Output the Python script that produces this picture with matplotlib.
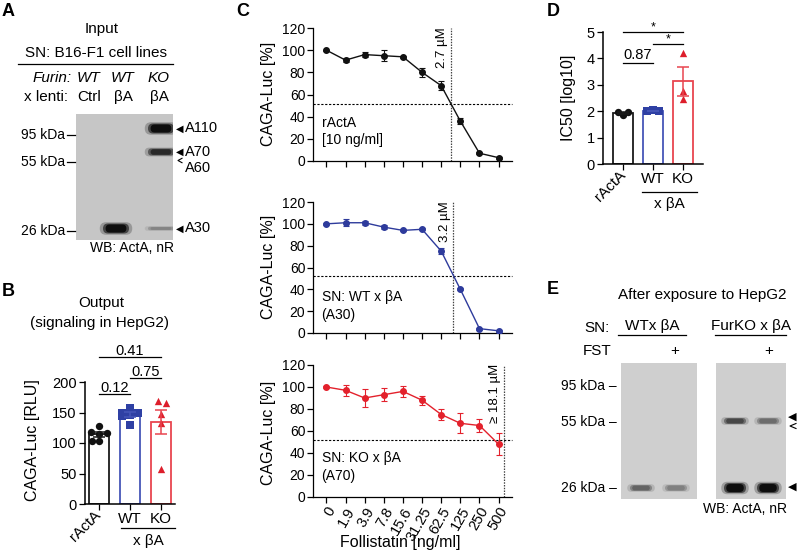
import numpy as np
import matplotlib
matplotlib.use('Agg')
import matplotlib.pyplot as plt
from matplotlib.lines import Line2D
from matplotlib.patches import FancyBboxPatch

plt.rcParams['font.family'] = ['Liberation Sans', 'DejaVu Sans']
plt.rcParams['axes.linewidth'] = 0.9
plt.rcParams['xtick.major.width'] = 0.9
plt.rcParams['ytick.major.width'] = 0.9
plt.rcParams['xtick.major.size'] = 4
plt.rcParams['ytick.major.size'] = 4

# ---- data ----
# panel A blot
a_genotype = ['WT', 'WT', 'KO']
a_lenti = ['Ctrl', 'βA', 'βA']
a_markers = ['95 kDa', '55 kDa', '26 kDa']
# (lane index, band, intensity 0..1)
a_bands = [(2, 'A110', 1.0), (2, 'A70', 0.85), (1, 'A30', 1.0), (2, 'A30', 0.35)]

# panel B: CAGA-Luc RLU per replicate
b_groups = ['rActA', 'WT', 'KO']
b_ract = [128, 118, 117, 114, 104, 103]
b_wt = [158, 150, 149, 146, 145, 130]
b_ko = [169, 165, 147, 132, 58]
b_pvals = ['0.12', '0.75', '0.41']

# panel C: dose response, CAGA-Luc [%]
conc_labels = ['0', '1.9', '3.9', '7.8', '15.6', '31.25', '62.5', '125', '250', '500']
c_ract_mean = [100, 91, 96, 95, 94, 80, 68, 36, 7, 3]
c_ract_err = [0.5, 2, 2, 5, 1, 4, 4, 3, 1, 1]
c_wt_mean = [100, 101, 101, 97, 94, 95, 75, 40, 4, 2]
c_wt_err = [1, 3, 2, 2, 1, 1, 3, 1, 1, 1]
c_ko_mean = [100, 97, 90, 93, 96, 88, 75, 67, 65, 48]
c_ko_err = [1, 5, 8, 6, 5, 4, 5, 9, 6, 10]
c_half = [51.5, 52.5, 51.5]
c_ic50_x = [6.5, 6.62, 9.27]
c_ic50_lbl = ['2.7 µM', '3.2 µM', '≥ 18.1 µM']
c_names = ['rActA\n[10 ng/ml]', 'SN: WT x βA\n(A30)', 'SN: KO x βA\n(A70)']

# panel D: IC50 [log10]
d_ract = [1.98, 1.85, 1.98]
d_wt = [2.0, 2.03, 2.01]
d_ko = [4.2, 2.75, 2.45]
d_pvals = ['0.87', '*', '*']

# panel E blot
e_markers = ['95 kDa', '55 kDa', '26 kDa']
# (blot, lane, band, intensity)
e_bands = [(0, 0, '26', 0.55), (0, 1, '26', 0.4),
           (1, 0, '55', 0.7), (1, 1, '55', 0.5),
           (1, 0, '26', 1.0), (1, 1, '26', 1.0)]

# ---- styles ----
blk = '#111111'
blue = '#2e3b9c'
red = '#e3212c'
bar_edges = ['#1a1a1a', '#4656b8', '#e8454f']
pt_cols = [blk, '#2f40a4', '#dd1e2b']
pt_marks = ['o', 's', '^']

W, H = 799, 554
fig = plt.figure(figsize=(W / 100, H / 100), dpi=100)


def add_ax(x0, y0, x1, y1):
    return fig.add_axes([x0 / W, 1 - y1 / H, (x1 - x0) / W, (y1 - y0) / H])


def ftext(x, y, s, **kw):
    kw.setdefault('ha', 'center')
    kw.setdefault('va', 'center')
    kw.setdefault('fontsize', 10.5)
    fig.text(x / W, 1 - y / H, s, **kw)


def fline(x0, x1, y, lw=0.9, color='black'):
    fig.add_artist(Line2D([x0 / W, x1 / W], [1 - y / H, 1 - y / H], lw=lw, color=color))


def open_arrow(x, y, w=5, h=3):
    # small open "<" arrowhead drawn as lines
    fig.add_artist(Line2D([(x + w) / W, x / W, (x + w) / W],
                          [1 - (y - h) / H, 1 - y / H, 1 - (y + h) / H],
                          lw=0.8, color='black'))


def blot_ax(box, bg):
    x0, y0, x1, y1 = box
    ax = add_ax(*box)
    ax.set_xlim(x0, x1)
    ax.set_ylim(y1, y0)
    ax.set_facecolor(bg)
    ax.set_xticks([])
    ax.set_yticks([])
    for s in ax.spines.values():
        s.set_visible(False)
    return ax


def band(ax, cx, cy, w, h, inten, bg=0.8):
    g = bg * (1 - 0.93 * inten)
    col = (g, g, g)
    for f, a in [(1.25, 0.25), (1.0, 0.6), (0.8, 1.0)]:
        ww, hh = w * f, h * f
        ax.add_patch(FancyBboxPatch((cx - ww / 2, cy - hh / 2), ww, hh,
                                    boxstyle='round,pad=0,rounding_size=%f' % (hh / 2),
                                    fc=col, ec='none', alpha=a))


def letter(x, y, s):
    ftext(x, y, s, fontsize=13, fontweight='bold')


# ================= Panel A =================
letter(8, 12, 'A')
ftext(102, 29, 'Input', fontsize=11)
ftext(96, 53, 'SN: B16-F1 cell lines', fontsize=11)
fline(18, 173, 64)
ftext(72, 78, 'Furin:', ha='right', style='italic', fontsize=11)
ftext(68, 97, 'x lenti:', ha='right', fontsize=11)
for xh, g, l in zip([89, 123, 159], a_genotype, a_lenti):
    ftext(xh, 78, g, style='italic', fontsize=11)
    ftext(xh, 97, l, fontsize=11)

a_box = (76, 114, 173, 240)
axA = blot_ax(a_box, '#c6c6c6')
a_lane_x = [91, 116, 161]
a_band_y = {'A110': 128.5, 'A70': 152, 'A60': 162, 'A30': 228.5}
a_band_h = {'A110': 10, 'A70': 7, 'A60': 6, 'A30': 10}
for lane, nm, inten in a_bands:
    h = a_band_h[nm] * (0.35 if inten < 0.5 else 1)
    band(axA, a_lane_x[lane], a_band_y[nm], 26, h, inten, bg=0.77)
for nm, y in zip(a_markers, [135, 162, 231]):
    ftext(65, y, nm, ha='right', fontsize=10)
    fline(67, 75, y)
for nm in ['A110', 'A70', 'A30']:
    ftext(176, a_band_y[nm], '◀', ha='left', fontsize=7, family='DejaVu Sans')
    ftext(185, a_band_y[nm], nm, ha='left', fontsize=10.5)
open_arrow(178, 160.5, 4, 2.2)
ftext(185, 168, 'A60', ha='left', fontsize=10.5)
ftext(132, 248, 'WB: ActA, nR', fontsize=10)


# ================= Panels B and D (bar + scatter) =================
def bar_panel(box, groups, pts_list, jit_list, ylim, yticks, tfs):
    ax = add_ax(*box)
    for i, (pts, jit) in enumerate(zip(pts_list, jit_list)):
        pts = np.array(pts, dtype=float)
        m = pts.mean()
        sem = pts.std(ddof=1) / np.sqrt(len(pts))
        ax.bar(i, m, width=0.64, facecolor='white', edgecolor=bar_edges[i], lw=1.3, zorder=1)
        ax.scatter(i + np.array(jit), pts, marker=pt_marks[i], s=28, color=pt_cols[i],
                   zorder=3, lw=0)
        ax.errorbar(i, m, yerr=sem, color=bar_edges[i], capsize=4, elinewidth=1.1,
                    capthick=1.1, zorder=4)
    ax.set_xlim(-0.62, 2.5)
    ax.set_ylim(*ylim)
    ax.set_yticks(yticks)
    ax.tick_params(labelsize=tfs, pad=2)
    ax.set_xticks([0, 1, 2])
    ax.set_xticklabels(groups, fontsize=tfs + 0.5)
    lb = ax.get_xticklabels()[0]
    lb.set_rotation(45)
    lb.set_ha('right')
    lb.set_va('center')
    lb.set_rotation_mode('anchor')
    for s in ['top', 'right']:
        ax.spines[s].set_visible(False)
    for s in ['left', 'bottom']:
        ax.spines[s].set_linewidth(1.1)
    return ax


def bracket(ax, x0, x1, y, txt, dy, fs):
    ax.plot([x0, x1], [y, y], color='k', lw=0.9, clip_on=False)
    ax.text((x0 + x1) / 2, y + dy, txt, ha='center', va='baseline', fontsize=fs, clip_on=False)


# ---- B ----
letter(8, 291, 'B')
ftext(101, 303, 'Output', fontsize=11)
ftext(100, 323, '(signaling in HepG2)', fontsize=11)
b_jit = [[0, -0.25, 0.25, 0, -0.22, 0], [0, -0.25, 0.25, 0, -0.25, 0],
         [-0.1, 0.15, 0, 0, 0]]
axB = bar_panel((85, 382, 175, 504), b_groups, [b_ract, b_wt, b_ko], b_jit,
                (0, 200), [0, 50, 100, 150, 200], 10.5)
axB.set_xlim(-0.45, 2.45)
bracket(axB, 0, 1, 180, b_pvals[0], 4, 10.5)
bracket(axB, 1, 2, 206, b_pvals[1], 4, 10.5)
bracket(axB, 0, 2, 241, b_pvals[2], 4, 10.5)
ftext(32, 440, 'CAGA-Luc [RLU]', rotation=90, fontsize=11.5)
fline(121, 175, 528)
ftext(148, 541, 'x βA', fontsize=11)

# ---- D ----
letter(553, 11, 'D')
d_jit = [[-0.18, 0, 0.16], [-0.2, 0, 0.2], [0, 0, 0]]
axD = bar_panel((603, 32, 703, 164), b_groups, [d_ract, d_wt, d_ko], d_jit,
                (0, 5), [0, 1, 2, 3, 4, 5], 10.5)
axD.set_xlim(-0.67, 2.67)
bracket(axD, 0, 1, 3.84, d_pvals[0], 0.12, 10.5)
bracket(axD, 1, 2, 4.55, d_pvals[1], 0.06, 9)
bracket(axD, 0, 2, 5.01, d_pvals[2], 0.06, 9)
ftext(569, 98, 'IC50 [log10]', rotation=90, fontsize=11.5)
fline(642, 697, 192)
ftext(669, 204, 'x βA', fontsize=11)

# ================= Panel C =================
letter(243, 11, 'C')
c_boxes = [(313, 28, 512, 161), (313, 202, 512, 333), (313, 365, 512, 497)]
c_means = [c_ract_mean, c_wt_mean, c_ko_mean]
c_errs = [c_ract_err, c_wt_err, c_ko_err]
c_cols = [blk, blue, red]
c_text_y = [41, 39, 42]
c_ylab_y = [94, 267, 433]
xs = np.arange(len(conc_labels))
for i in range(3):
    ax = add_ax(*c_boxes[i])
    ax.errorbar(xs, c_means[i], yerr=c_errs[i], color=c_cols[i], marker='o', ms=4,
                lw=1, elinewidth=0.8, capsize=2.5, capthick=0.8, zorder=3)
    ax.set_xlim(-0.7, 9.7)
    ax.set_ylim(0, 120)
    ax.set_yticks(range(0, 121, 20))
    ax.set_xticks(xs)
    ax.tick_params(labelsize=10, pad=1.5)
    if i < 2:
        ax.set_xticklabels([])
    else:
        ax.set_xticklabels(conc_labels, rotation=60, ha='right', rotation_mode='anchor',
                           fontsize=10.5)
    for s in ['top', 'right']:
        ax.spines[s].set_visible(False)
    ax.axhline(c_half[i], color='k', lw=0.8, ls=(0, (2, 1.5)), clip_on=False)
    ax.axvline(c_ic50_x[i], color='#444444', lw=0.9, ls=(0, (1.2, 1)))
    ax.text(c_ic50_x[i] - 0.12, 121, c_ic50_lbl[i], rotation=90, ha='right', va='top',
            fontsize=9.5, clip_on=False)
    ax.text(-0.25, c_text_y[i], c_names[i], va='top', fontsize=10, linespacing=1.35)
    ftext(268, c_ylab_y[i], 'CAGA-Luc [%]', rotation=90, fontsize=11.5)
ftext(400, 543, 'Follistatin [ng/ml]', fontsize=11.5)

# ================= Panel E =================
letter(553, 290, 'E')
ftext(702, 295, 'After exposure to HepG2', fontsize=11)
ftext(597, 328, 'SN:', fontsize=11)
ftext(652, 326, 'WTx βA', fontsize=11)
ftext(751, 326, 'FurKO x βA', fontsize=11)
fline(618, 686, 335)
fline(715, 786, 335)
ftext(597, 351, 'FST', fontsize=11)
ftext(675, 351, '+', fontsize=11)
ftext(769, 351, '+', fontsize=11)

e_boxes = [(621, 363, 697, 499), (716, 363, 786, 499)]
e_lane_x = [[641, 676], [735, 768]]
e_band_y = {'55': 421, '26': 488}
e_band_h = {'55': 6, '26': 10}
e_axes = [blot_ax(b, '#cfcfcf') for b in e_boxes]
for bi, lane, nm, inten in e_bands:
    h = e_band_h[nm] * (1 if (inten > 0.9 or nm == '55') else 0.6)
    band(e_axes[bi], e_lane_x[bi][lane], e_band_y[nm], 22, h, inten, bg=0.8)
for nm, y in zip(e_markers, [386, 422, 488]):
    ftext(617, y, nm + ' –', ha='right', fontsize=10)
ftext(788, 417, '◀', ha='left', fontsize=8, family='DejaVu Sans')
open_arrow(790, 426, 6, 2.5)
ftext(788, 487, '◀', ha='left', fontsize=8, family='DejaVu Sans')
ftext(745, 509, 'WB: ActA, nR', fontsize=10)

fig.savefig('out.png', dpi=100)
